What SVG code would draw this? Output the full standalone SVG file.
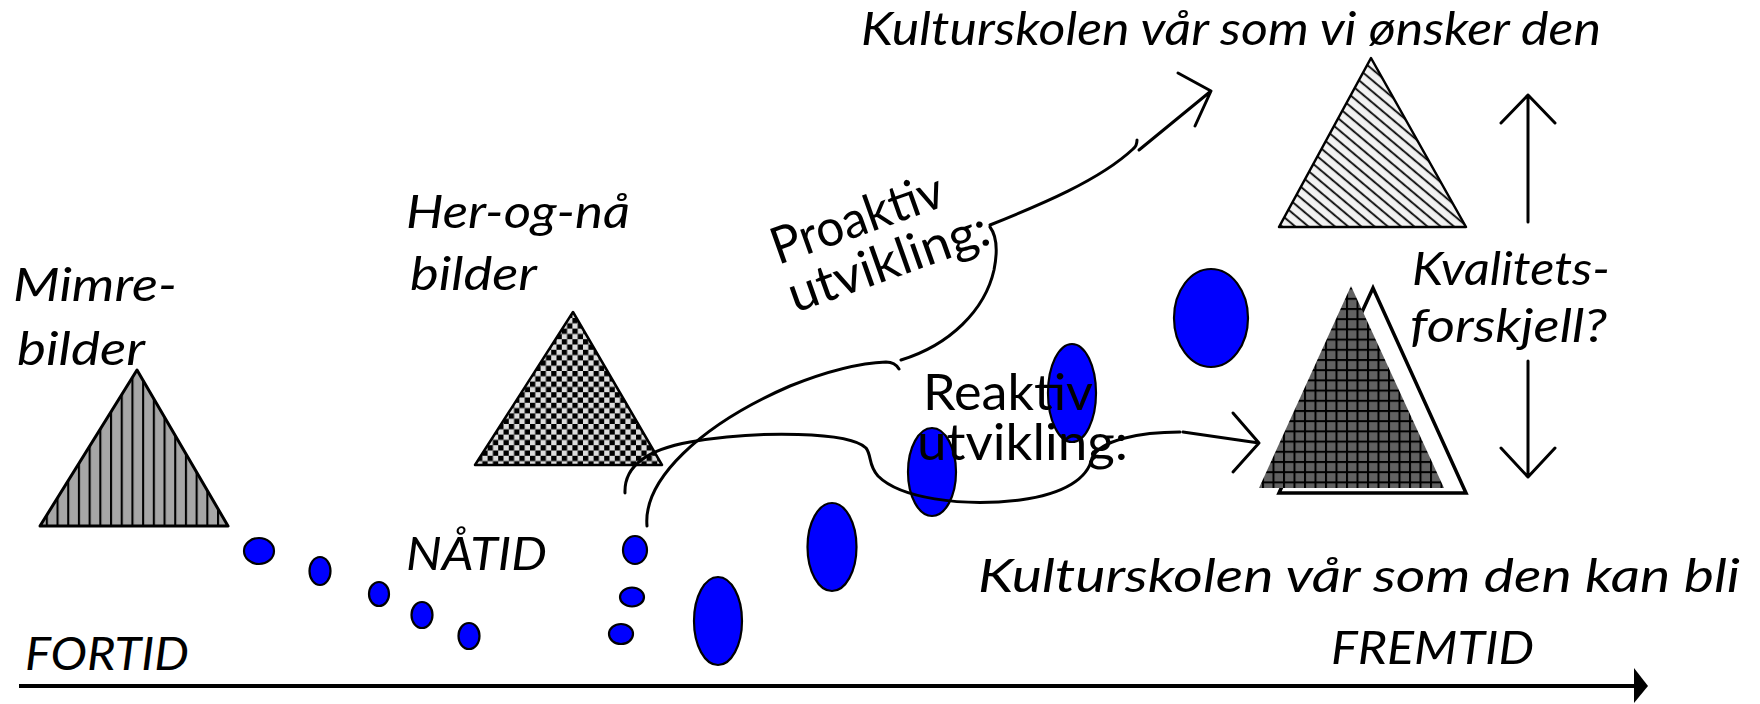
<svg xmlns="http://www.w3.org/2000/svg" width="1760" height="704" viewBox="0 0 1760 704">
<style>
.t{font-family:Lato,"Liberation Sans",sans-serif;font-size:46px;font-style:italic;fill:#000}
.n{font-family:Lato,"Liberation Sans",sans-serif;font-size:51px;fill:#000}
.dot{fill:#0000ff;stroke:#000;stroke-width:2.2}
.c{fill:none;stroke:#000;stroke-width:3;stroke-linecap:round;stroke-linejoin:round}
</style>
<defs>
<pattern id="vert" patternUnits="userSpaceOnUse" width="10.7" height="10" x="3">
<rect width="10.7" height="10" fill="#a6a6a6"/>
<line x1="1" y1="0" x2="1" y2="10" stroke="#000" stroke-width="2.2"/>
</pattern>
<pattern id="check" patternUnits="userSpaceOnUse" width="10.6" height="10.6">
<rect width="10.6" height="10.6" fill="#dcdcdc"/>
<rect width="5.3" height="5.3" fill="#000"/>
<rect x="5.3" y="5.3" width="5.3" height="5.3" fill="#000"/>
</pattern>
<pattern id="diag" patternUnits="userSpaceOnUse" width="20" height="8.5" patternTransform="rotate(40)">
<rect width="20" height="8.5" fill="#f2f2f2"/>
<line x1="0" y1="4" x2="20" y2="4" stroke="#000" stroke-width="1.8"/>
</pattern>
<pattern id="grid" patternUnits="userSpaceOnUse" width="10.5" height="10.2" x="2" y="2">
<rect width="10.5" height="10.2" fill="#626262"/>
<line x1="1" y1="0" x2="1" y2="10.2" stroke="#000" stroke-width="2"/>
<line x1="0" y1="1" x2="10.5" y2="1" stroke="#000" stroke-width="2"/>
</pattern>
</defs>

<g id="mimre">
<polygon points="137,370 228,526 40,526" fill="url(#vert)" stroke="#000" stroke-width="3" stroke-linejoin="round"/>
<text class="t" x="13" y="301" textLength="164" lengthAdjust="spacingAndGlyphs">Mimre-</text>
<text class="t" x="17" y="365" textLength="128" lengthAdjust="spacingAndGlyphs">bilder</text>
</g>

<g id="herognaa">
<polygon points="573,312 662,465 475,465" fill="url(#check)" stroke="#000" stroke-width="2.5" stroke-linejoin="round"/>
<text class="t" x="406" y="228" textLength="224" lengthAdjust="spacingAndGlyphs">Her-og-nå</text>
<text class="t" x="410" y="290" textLength="127" lengthAdjust="spacingAndGlyphs">bilder</text>
</g>

<g id="dots">
<ellipse class="dot" cx="259" cy="551" rx="15" ry="13"/>
<ellipse class="dot" cx="320" cy="571" rx="10.5" ry="14"/>
<ellipse class="dot" cx="379" cy="594" rx="10" ry="12"/>
<ellipse class="dot" cx="422" cy="615" rx="10.5" ry="13"/>
<ellipse class="dot" cx="469" cy="636" rx="10.5" ry="13"/>
<ellipse class="dot" cx="635" cy="550" rx="12" ry="14"/>
<ellipse class="dot" cx="632" cy="597" rx="12" ry="9.5"/>
<ellipse class="dot" cx="621" cy="634" rx="12" ry="10"/>
<ellipse class="dot" cx="718" cy="621" rx="24" ry="44"/>
<ellipse class="dot" cx="832" cy="547" rx="24.5" ry="44"/>
<ellipse class="dot" cx="932" cy="472" rx="24" ry="44"/>
<ellipse class="dot" cx="1072" cy="393" rx="24" ry="49"/>
<ellipse class="dot" cx="1211" cy="318" rx="37" ry="49"/>
</g>

<g id="natid">
<text class="t" x="406" y="570" textLength="141" lengthAdjust="spacingAndGlyphs">NÅTID</text>
</g>

<g id="onsket">
<polygon points="1371,58 1466,227 1279,227" fill="url(#diag)" stroke="#000" stroke-width="2.5" stroke-linejoin="round"/>
<text class="t" x="861" y="45" textLength="740" lengthAdjust="spacingAndGlyphs">Kulturskolen vår som vi ønsker den</text>
</g>

<g id="kanbli">
<polygon points="1373,288 1466,493 1279,493" fill="#fff" stroke="#000" stroke-width="3.5" stroke-linejoin="miter"/>
<polygon points="1351,286 1444,488 1259,488" fill="url(#grid)"/>
<text class="t" x="978" y="592" textLength="762" lengthAdjust="spacingAndGlyphs">Kulturskolen vår som den kan bli</text>
</g>

<g id="kvalitet">
<text class="t" x="1412" y="285" textLength="198" lengthAdjust="spacingAndGlyphs">Kvalitets-</text>
<text class="t" x="1410" y="342" textLength="197" lengthAdjust="spacingAndGlyphs">forskjell?</text>
</g>

<g id="tid">
<text class="t" x="25" y="670" textLength="164" lengthAdjust="spacingAndGlyphs">FORTID</text>
<text class="t" x="1331" y="664" textLength="203" lengthAdjust="spacingAndGlyphs">FREMTID</text>
</g>

<g id="connectors">
<path class="c" d="M647,526 C643,480 700,425 790,386 C830,370 860,363 886,362 Q895,362 899,369"/>
<path class="c" d="M901,360 C950,345 985,310 994,270 C998,250 996,235 990,227"/>
<path class="c" d="M990,225 C1040,205 1100,180 1133,149 Q1137,146 1137,140"/>
<path class="c" d="M1139,150 L1211,91 M1178,73 L1211,91 L1195,126"/>
<path class="c" d="M625,493 C624,468 645,450 690,442 C760,430 850,432 866,448 C872,456 868,465 878,476 C900,498 960,507 1020,500 C1065,494 1088,478 1092,458 C1100,440 1140,432 1180,432"/>
<path class="c" d="M1183,432 L1259,443 M1233,413 L1259,443 L1233,472"/>
<path class="c" d="M1528,222 L1528,95 M1501,123 L1528,95 L1555,123"/>
<path class="c" d="M1528,361 L1528,477 M1501,448 L1528,477 L1555,448"/>
<line x1="19" y1="686" x2="1636" y2="686" stroke="#000" stroke-width="4"/>
<polygon points="1634,668 1648,686 1634,703" fill="#000"/>
</g>

<g id="labels">
<text class="n" x="923" y="410" textLength="170" lengthAdjust="spacingAndGlyphs">Reaktiv</text>
<text class="n" x="917" y="460" textLength="211" lengthAdjust="spacingAndGlyphs">utvikling:</text>
<g transform="translate(778,265) rotate(-19.5)">
<text class="n" x="0" y="0" textLength="180" lengthAdjust="spacingAndGlyphs">Proaktiv</text>
<text class="n" x="0" y="51" textLength="210" lengthAdjust="spacingAndGlyphs">utvikling:</text>
</g>
</g>
</svg>
